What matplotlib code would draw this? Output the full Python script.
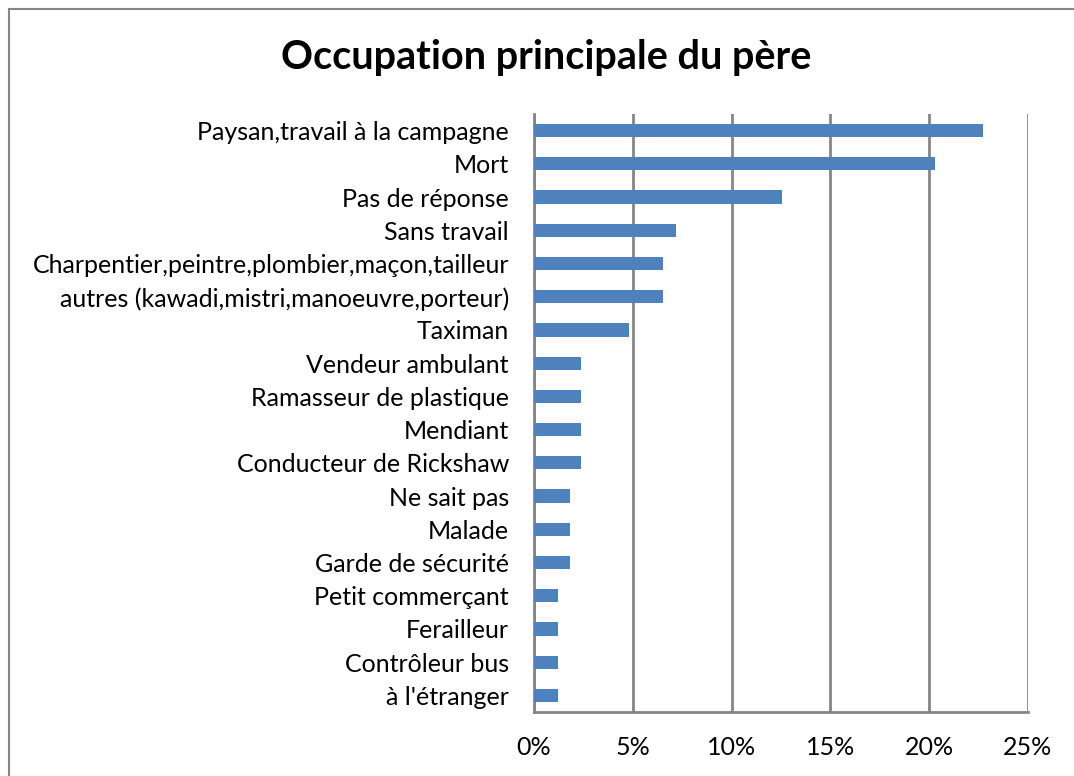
import matplotlib.pyplot as plt
from matplotlib.patches import Rectangle
from matplotlib.ticker import PercentFormatter

categories = [
    "Paysan,travail à la campagne",
    "Mort",
    "Pas de réponse",
    "Sans travail",
    "Charpentier,peintre,plombier,maçon,tailleur",
    "autres (kawadi,mistri,manoeuvre,porteur)",
    "Taximan",
    "Vendeur ambulant",
    "Ramasseur de plastique",
    "Mendiant",
    "Conducteur de Rickshaw",
    "Ne sait pas",
    "Malade",
    "Garde de sécurité",
    "Petit commerçant",
    "Ferailleur",
    "Contrôleur bus",
    "à l'étranger",
]
values = [22.7, 20.3, 12.55, 7.2, 6.55, 6.55, 4.8, 2.4, 2.4, 2.4, 2.4,
          1.8, 1.8, 1.8, 1.2, 1.2, 1.2, 1.2]
xticks = [0, 5, 10, 15, 20, 25]

plt.rcParams['font.family'] = ['Lato', 'DejaVu Sans']

fig = plt.figure(figsize=(10.74, 7.76), dpi=100)
# outer chart frame (runs off right and bottom edges)
fig.patches.append(Rectangle((9 / 1074, -0.1), 1.2, (776 - 9) / 776 + 0.1,
                             transform=fig.transFigure, fill=False,
                             edgecolor='#868686', linewidth=1.5))

ax = fig.add_axes([534 / 1074, 1 - 712 / 776, 494 / 1074, 598 / 776])
pos = list(range(len(categories)))
ax.barh(pos, values, height=0.4, color='#4F81BD', zorder=3)
ax.set_ylim(len(categories) - 0.5, -0.5)
ax.set_xlim(0, 25)
ax.set_yticks(pos)
ax.set_yticklabels(categories, fontsize=18)
ax.set_xticks(xticks)
ax.xaxis.set_major_formatter(PercentFormatter(decimals=0))
ax.tick_params(axis='x', labelsize=18, length=0, pad=17)
ax.tick_params(axis='y', length=0, pad=18)
ax.grid(axis='x', color='#868686', linewidth=2, zorder=0)
for s in ['top', 'right']:
    ax.spines[s].set_visible(False)
for s in ['left', 'bottom']:
    ax.spines[s].set_color('#868686')
    ax.spines[s].set_linewidth(2)

fig.text(546 / 1074, 1 - 57 / 776, "Occupation principale du père",
         ha='center', va='center', fontsize=28.5, fontweight='bold')

fig.savefig('out.png', dpi=100)
